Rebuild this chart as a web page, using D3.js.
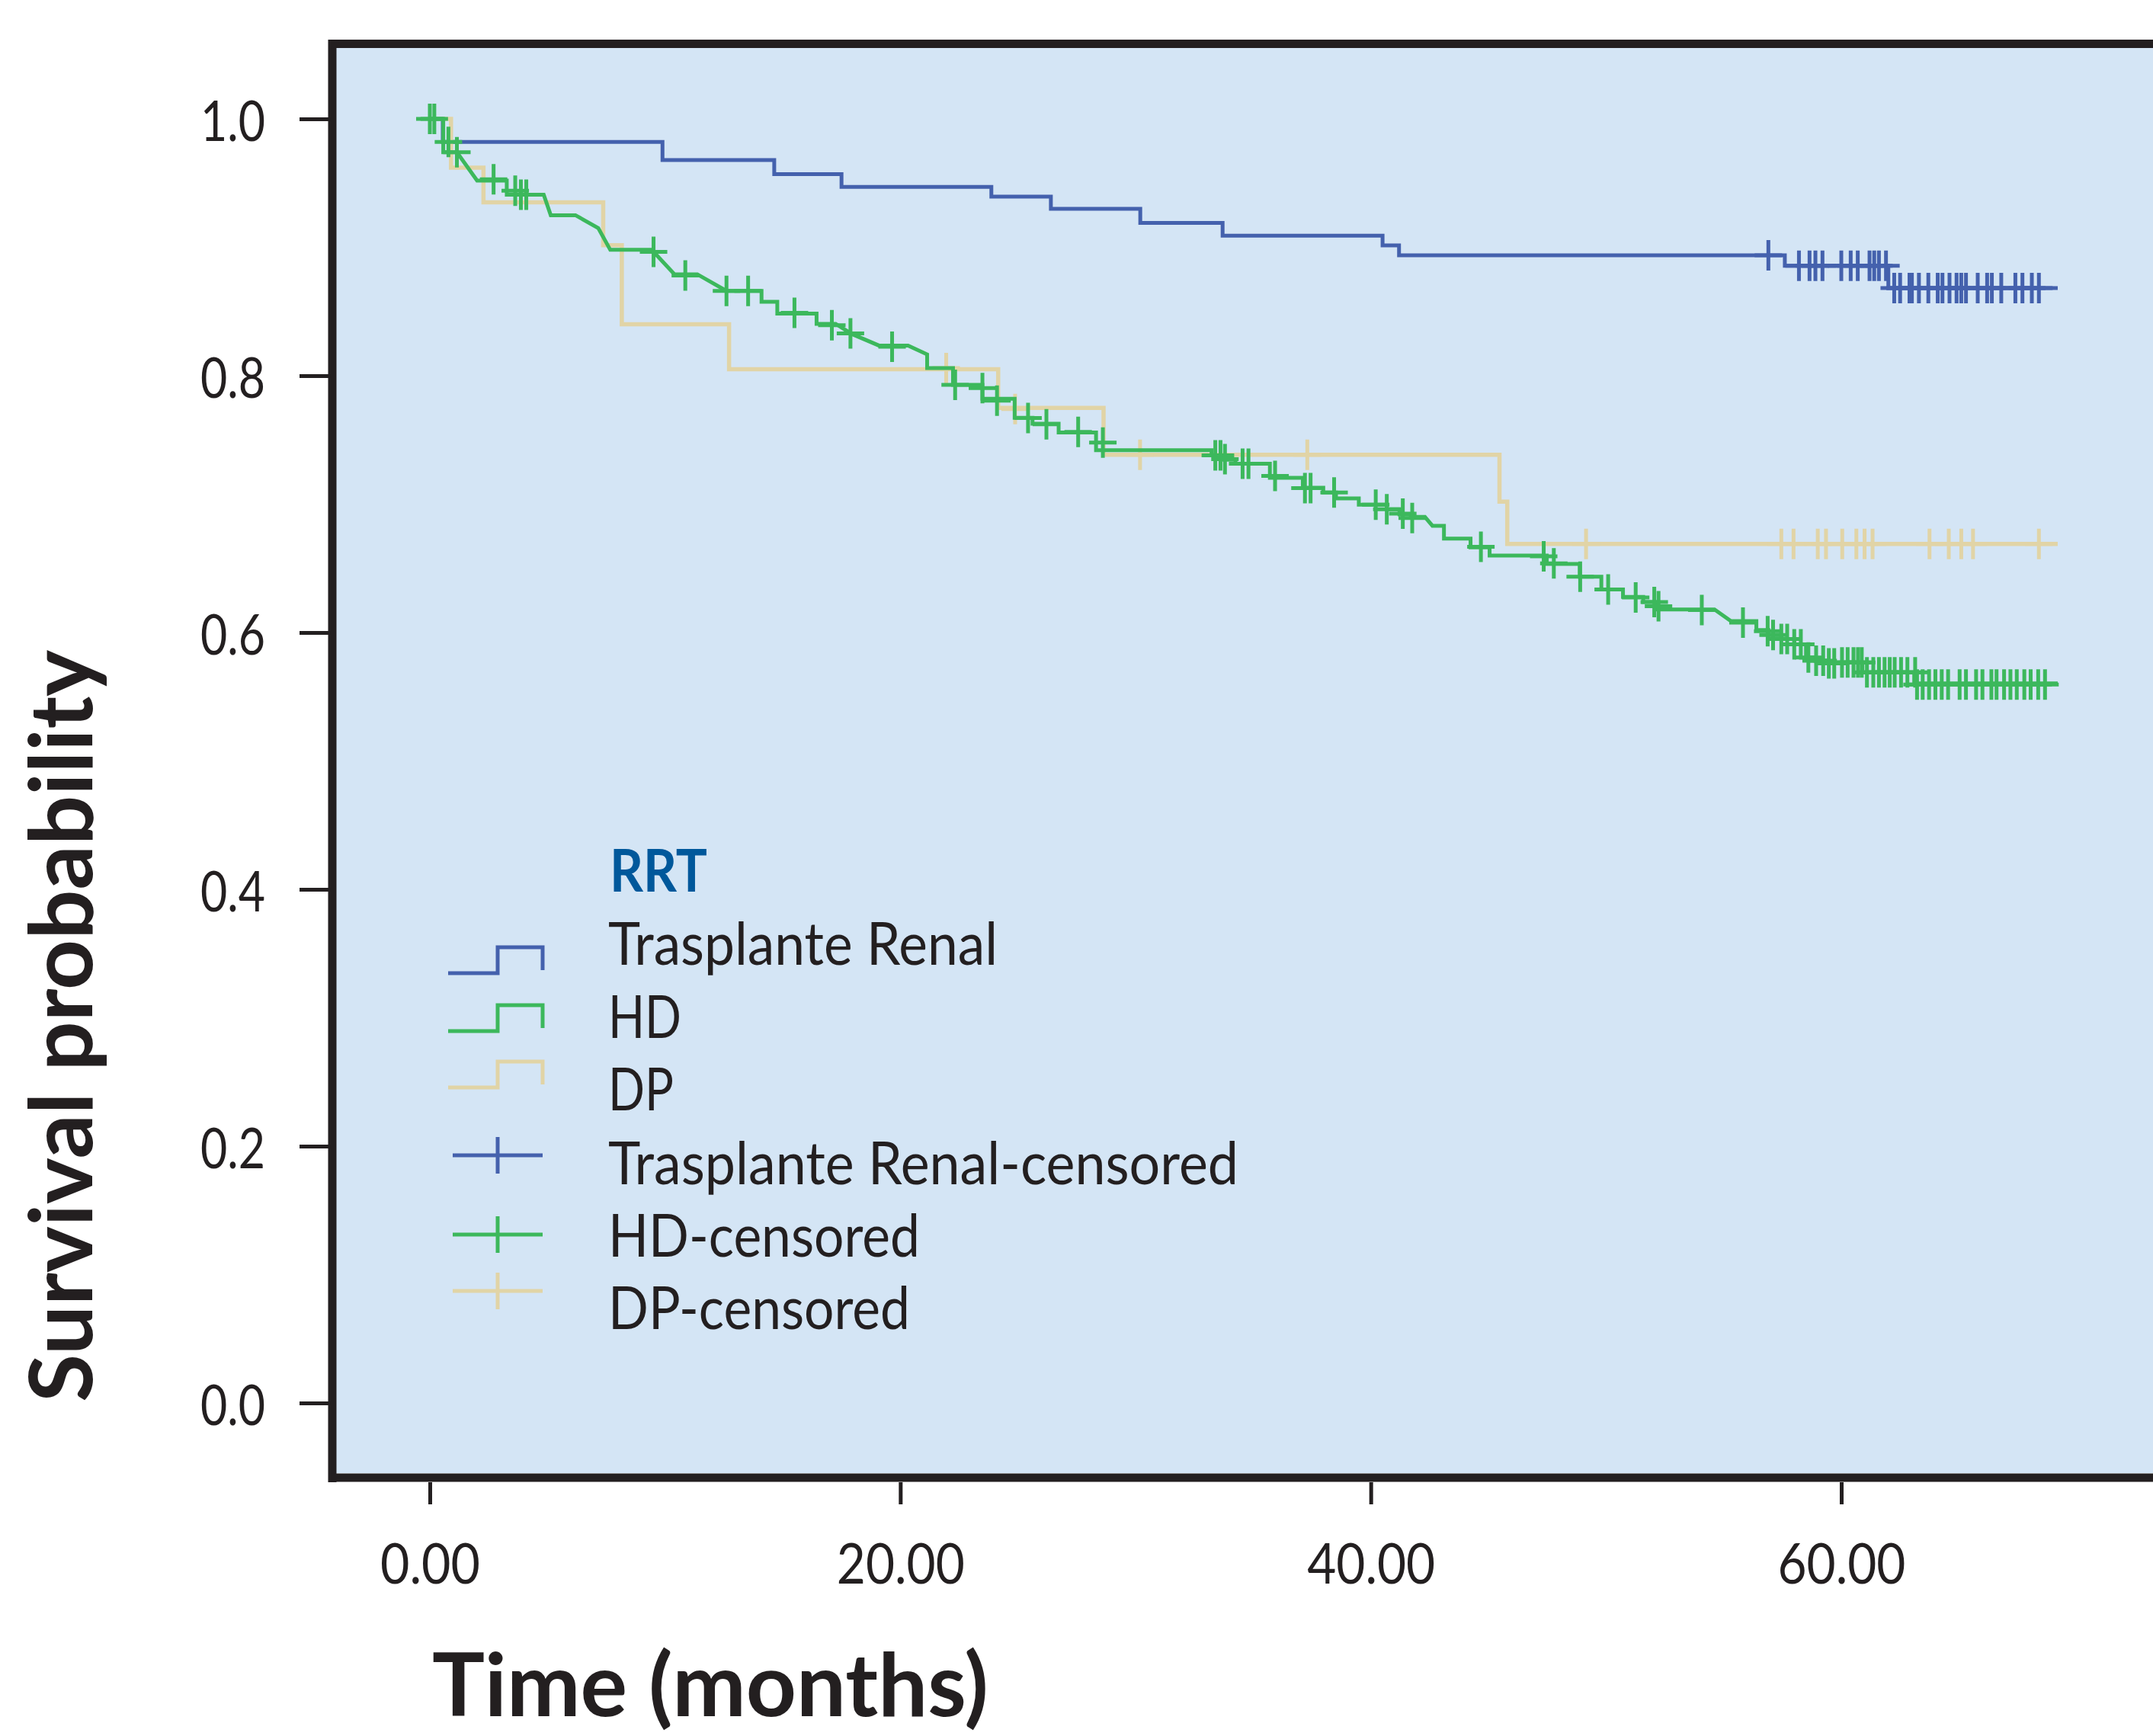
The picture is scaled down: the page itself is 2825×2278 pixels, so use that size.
<!DOCTYPE html>
<html><head><meta charset="utf-8">
<script src="https://cdn.jsdelivr.net/npm/d3@7"></script>
<style>body{margin:0;background:#fff} svg{display:block}</style>
</head><body>
<svg id="chart" width="2825" height="2278"></svg>
<script>
// ---------------- DATA ----------------
const xTicks = [0, 20, 40, 60];
const yTicks = [0, 0.2, 0.4, 0.6, 0.8, 1.0];
const seriesNames = ["Trasplante Renal", "HD", "DP"];
const legendTitle = "RRT";
const xTitle = "Time (months)";
const yTitle = "Survival probability";

// Trasplante Renal: step curve (event times, survival after event)
const trTimes = [0, 0.55, 9.89, 14.64, 17.5, 23.87, 26.4, 30.2, 33.7, 40.5, 41.2, 57.6, 62.0, 69.2];
const trSurv  = [1.0, 0.982, 0.968, 0.957, 0.947, 0.9395, 0.930, 0.919, 0.909, 0.9015, 0.8937, 0.8856, 0.8682, 0.8682];
const trCensT = [56.9, 58.2, 58.65, 58.9, 59.2, 60.0, 60.4, 60.7, 61.2, 61.4, 61.6, 61.9,
                 62.25, 62.5, 62.9, 63.0, 63.3, 63.7, 64.1, 64.3, 64.6, 64.9, 65.1, 65.3, 65.8, 66.2, 66.4, 66.8, 67.4, 67.7, 68.1, 68.4];
const trCensS = [0.8937, 0.8856, 0.8856, 0.8856, 0.8856, 0.8856, 0.8856, 0.8856, 0.8856, 0.8856, 0.8856, 0.8856,
                 0.8682, 0.8682, 0.8682, 0.8682, 0.8682, 0.8682, 0.8682, 0.8682, 0.8682, 0.8682, 0.8682, 0.8682, 0.8682, 0.8682, 0.8682, 0.8682, 0.8682, 0.8682, 0.8682, 0.8682];

// DP: step curve
const dpTimes = [0, 0.9, 2.28, 7.37, 8.16, 12.72, 24.16, 28.64, 45.47, 45.8, 69.2];
const dpSurv  = [1.0, 0.962, 0.935, 0.9017, 0.840, 0.805, 0.775, 0.7385, 0.702, 0.669, 0.669];
const dpCensT = [21.95, 24.88, 30.19, 37.3, 49.15, 57.45, 57.97, 59.0, 59.35, 60.04, 60.64, 60.99, 61.33, 63.75, 64.57, 65.1, 65.6, 68.4];
const dpCensS = [0.806, 0.774, 0.7385, 0.7385, 0.669, 0.669, 0.669, 0.669, 0.669, 0.669, 0.669, 0.669, 0.669, 0.669, 0.669, 0.669, 0.669, 0.669];

// HD: traced vertices of the drawn curve
const hdTimes = [0, 0.57, 0.57, 1.15, 2.01, 3.27, 3.27, 4.84, 5.14, 6.19, 7.16, 7.67, 9.43, 10.4, 11.37, 12.61, 14.1, 14.1, 14.77, 14.77,
  16.44, 16.44, 17.25, 17.95, 19.09, 20.33, 21.14, 21.14, 22.24, 22.24, 23.49, 23.49, 24.86, 24.86, 25.62, 25.62, 26.73, 26.73, 28.32, 28.32,
  33.23, 33.23, 33.77, 33.77, 34.25, 34.25, 35.71, 35.71, 37.11, 37.11, 37.98, 37.98, 38.52, 38.52, 39.49, 39.49, 40.68, 40.68, 41.22, 41.22,
  41.7, 41.7, 42.3, 42.62, 43.11, 43.11, 44.24, 44.24, 45.05, 45.05, 47.48, 47.48, 48.88, 48.88, 49.8, 49.8, 50.72, 50.72, 51.58, 51.58,
  52.13, 52.13, 54.61, 55.31, 56.39, 56.39, 56.9, 56.9, 57.45, 57.45, 58.0, 58.0, 58.5, 58.5, 58.9, 58.9, 59.4, 59.4, 60.9, 60.9, 63.1, 63.1, 69.2];
const hdSurv = [1.0, 1.0, 0.974, 0.974, 0.952, 0.952, 0.941, 0.941, 0.925, 0.925, 0.915, 0.898, 0.898, 0.879, 0.879, 0.866, 0.866, 0.8576, 0.8576, 0.8483,
  0.8483, 0.8404, 0.8404, 0.8324, 0.8235, 0.8235, 0.8166, 0.8059, 0.8059, 0.7929, 0.7929, 0.782, 0.782, 0.7672, 0.7672, 0.7626, 0.7626, 0.7558, 0.7558, 0.742,
  0.742, 0.738, 0.738, 0.7345, 0.7345, 0.7315, 0.7315, 0.7205, 0.7205, 0.7127, 0.7127, 0.709, 0.709, 0.7045, 0.7045, 0.6995, 0.6995, 0.696, 0.696, 0.692,
  0.692, 0.690, 0.690, 0.6831, 0.6831, 0.6732, 0.6732, 0.6663, 0.6663, 0.660, 0.660, 0.6534, 0.6534, 0.6435, 0.6435, 0.6336, 0.6336, 0.6277, 0.6277, 0.6237,
  0.6237, 0.618, 0.618, 0.6089, 0.6089, 0.602, 0.602, 0.598, 0.598, 0.595, 0.595, 0.5908, 0.5908, 0.5806, 0.5806, 0.578, 0.578, 0.5767, 0.5767, 0.569, 0.569, 0.5604, 0.5604];
const hdCensT = [0, 0.19, 0.79, 1.15, 2.71, 3.63, 3.87, 4.1, 9.51, 10.86, 12.61, 13.53, 15.5, 17.09, 17.88, 19.65, 22.33, 23.49, 24.11,
  25.43, 26.21, 27.56, 28.61, 33.39, 33.61, 33.8, 34.55, 34.8, 35.93, 37.2, 37.44, 38.44, 40.21, 40.68, 41.36, 41.76, 44.68, 47.35, 47.78,
  48.9, 50.09, 51.26, 52.05, 52.23, 54.07, 55.82, 56.87, 57.1, 57.45, 57.7, 58.0, 58.28, 58.6, 58.93, 59.23, 59.47, 59.7, 60.03, 60.27,
  60.52, 60.71, 60.87, 61.09, 61.36, 61.6, 61.84, 62.06, 62.27, 62.54, 62.81, 63.14, 63.22, 63.46, 63.73, 64.0, 64.27, 64.54, 65.03, 65.3,
  65.73, 66.0, 66.38, 66.6, 66.92, 67.19, 67.46, 67.78, 68.05, 68.37, 68.66];
const hdCensS = [1.0, 1.0, 0.982, 0.974, 0.953, 0.944, 0.941, 0.941, 0.8965, 0.878, 0.866, 0.866, 0.849, 0.8393, 0.833, 0.8226, 0.7929, 0.7904, 0.7806,
  0.7671, 0.7621, 0.7562, 0.7479, 0.738, 0.738, 0.735, 0.7315, 0.7315, 0.722, 0.7125, 0.7125, 0.709, 0.6995, 0.696, 0.6926, 0.6891, 0.6667, 0.6594, 0.6538,
  0.6435, 0.6336, 0.6273, 0.6237, 0.6205, 0.6175, 0.6077, 0.601, 0.598, 0.595, 0.595, 0.5908, 0.5908, 0.5806, 0.578, 0.578, 0.576, 0.576, 0.5767, 0.5767,
  0.5767, 0.5767, 0.5767, 0.569, 0.569, 0.569, 0.569, 0.569, 0.569, 0.569, 0.569, 0.569, 0.5595, 0.5595, 0.5595, 0.5595, 0.5595, 0.5595, 0.5595, 0.5595,
  0.5595, 0.5595, 0.5595, 0.5595, 0.5595, 0.5595, 0.5595, 0.5595, 0.5595, 0.5595, 0.5595];

const colors = {tr: "#4461ad", hd: "#3cb85c", dp: "#e1d4a6"};

// ---------------- DRAW ----------------
const W = 2825, H = 2278;
const svg = d3.select("#chart");
const ink = "#231f20";
const FONT = "Lato, 'Open Sans', sans-serif";

const plotL = 441, plotT = 63, plotB = 1933;
const x = d3.scaleLinear().domain([0, 60]).range([564, 2416]);
const y = d3.scaleLinear().domain([0, 1]).range([1841, 156]);

svg.append("rect").attr("x", plotL).attr("y", plotT).attr("width", W - plotL).attr("height", plotB - plotT).attr("fill", "#d4e5f5");

svg.append("clipPath").attr("id", "clip").append("rect")
  .attr("x", plotL).attr("y", plotT).attr("width", W - plotL).attr("height", plotB - plotT);
const plot = svg.append("g").attr("clip-path", "url(#clip)");

const zip = (a, b) => a.map((v, i) => [v, b[i]]);
const stepLine = d3.line().x(d => x(d[0])).y(d => y(d[1])).curve(d3.curveStepAfter);
const polyLine = d3.line().x(d => x(d[0])).y(d => y(d[1]));

function censors(ts, ss, color) {
  const g = plot.append("g").attr("stroke", color).attr("stroke-width", 5).attr("fill", "none");
  g.selectAll("path").data(zip(ts, ss)).join("path")
    .attr("d", d => {
      const cx = x(d[0]), cy = y(d[1]);
      return `M${cx - 18},${cy}H${cx + 18}M${cx},${cy - 20}V${cy + 20}`;
    });
}

plot.append("path").attr("d", stepLine(zip(trTimes, trSurv))).attr("fill", "none").attr("stroke", colors.tr).attr("stroke-width", 5);
censors(trCensT, trCensS, colors.tr);
plot.append("path").attr("d", stepLine(zip(dpTimes, dpSurv))).attr("fill", "none").attr("stroke", colors.dp).attr("stroke-width", 5.5);
censors(dpCensT, dpCensS, colors.dp);
plot.append("path").attr("d", polyLine(zip(hdTimes, hdSurv))).attr("fill", "none").attr("stroke", colors.hd).attr("stroke-width", 5).attr("stroke-linejoin", "miter");
censors(hdCensT, hdCensS, colors.hd);

// frame
svg.append("line").attr("x1", 436).attr("x2", 436).attr("y1", 52).attr("y2", 1945).attr("stroke", ink).attr("stroke-width", 11);
svg.append("line").attr("x1", 431).attr("x2", W).attr("y1", 57.5).attr("y2", 57.5).attr("stroke", ink).attr("stroke-width", 11);
svg.append("line").attr("x1", 431).attr("x2", W).attr("y1", 1939).attr("y2", 1939).attr("stroke", ink).attr("stroke-width", 11);

// y axis
const yAxis = svg.append("g").attr("transform", "translate(431,0)")
  .call(d3.axisLeft(y).tickValues(yTicks).tickSize(38).tickPadding(45).tickFormat(d3.format(".1f")));
yAxis.select(".domain").remove();
yAxis.selectAll(".tick line").attr("stroke", ink).attr("stroke-width", 5);
yAxis.selectAll(".tick text").attr("fill", ink).attr("font-family", FONT).attr("font-size", 74)
  .attr("dy", null).attr("y", 28).attr("textLength", 85).attr("lengthAdjust", "spacingAndGlyphs");

// x axis
const xAxis = svg.append("g").attr("transform", "translate(0,1945)")
  .call(d3.axisBottom(x).tickValues(xTicks).tickSize(29).tickFormat(d3.format(".2f")));
xAxis.select(".domain").remove();
xAxis.selectAll(".tick line").attr("stroke", ink).attr("stroke-width", 5);
xAxis.selectAll(".tick text").attr("fill", ink).attr("font-family", FONT).attr("font-size", 74)
  .attr("dy", null).attr("y", 133).attr("textLength", d => d === 0 ? 131 : 168).attr("lengthAdjust", "spacingAndGlyphs");

// axis titles
svg.append("text").attr("x", 567).attr("y", 2252).attr("font-family", FONT).attr("font-weight", 700)
  .attr("font-size", 114).attr("fill", ink).attr("textLength", 730).attr("lengthAdjust", "spacingAndGlyphs").text(xTitle);
svg.append("text").attr("transform", "translate(121,1840) rotate(-90)").attr("font-family", FONT).attr("font-weight", 700)
  .attr("font-size", 114).attr("fill", ink).attr("textLength", 987).attr("lengthAdjust", "spacingAndGlyphs").text(yTitle);

// legend
const lg = svg.append("g");
lg.append("text").attr("x", 800).attr("y", 1170).attr("font-family", FONT).attr("font-weight", 700)
  .attr("font-size", 76).attr("fill", "#00589b").attr("textLength", 128).attr("lengthAdjust", "spacingAndGlyphs").text(legendTitle);

const legendLabels = [seriesNames[0], seriesNames[1], seriesNames[2],
  seriesNames[0] + "-censored", seriesNames[1] + "-censored", seriesNames[2] + "-censored"];
const legendWidths = [511, 96, 86, 827, 409, 396];
const legendBase = [1266, 1362, 1457, 1554, 1649, 1744];
const legendColors = [colors.tr, colors.hd, colors.dp, colors.tr, colors.hd, colors.dp];
lg.selectAll("text.item").data(legendLabels).join("text").attr("class", "item")
  .attr("x", 798).attr("y", (d, i) => legendBase[i]).attr("font-family", FONT).attr("font-size", 77)
  .attr("fill", ink).attr("textLength", (d, i) => legendWidths[i]).attr("lengthAdjust", "spacingAndGlyphs").text(d => d);

const stepSymY = [1277, 1353, 1427];
lg.selectAll("path.step").data(stepSymY).join("path").attr("class", "step")
  .attr("d", d => `M588,${d}H653V${d - 34}H712V${d - 4}`)
  .attr("fill", "none").attr("stroke", (d, i) => legendColors[i]).attr("stroke-width", 5);
const plusSymY = [1516, 1620, 1694];
lg.selectAll("path.plus").data(plusSymY).join("path").attr("class", "plus")
  .attr("d", d => `M594,${d}H712M653,${d - 24}V${d + 24}`)
  .attr("fill", "none").attr("stroke", (d, i) => legendColors[i + 3]).attr("stroke-width", 5);
</script>
</body></html>
